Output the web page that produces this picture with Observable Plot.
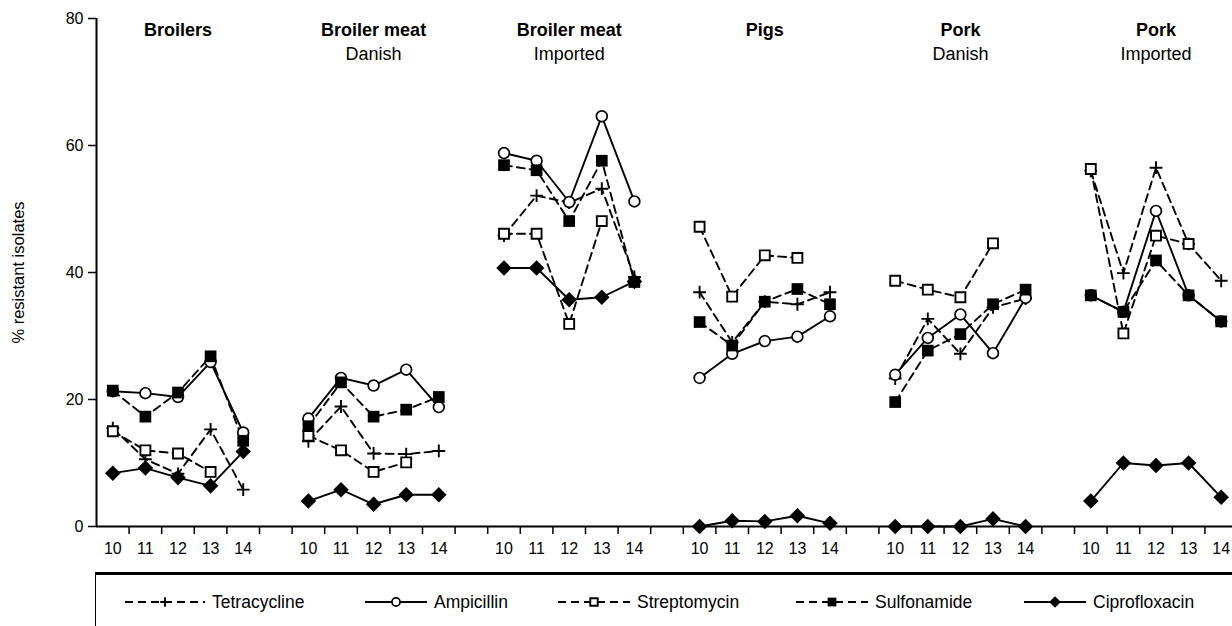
<!DOCTYPE html>
<html><head><meta charset="utf-8">
<script src="https://cdn.jsdelivr.net/npm/d3@7"></script>
<script src="https://cdn.jsdelivr.net/npm/@observablehq/plot@0.6"></script>
<style>
html,body{margin:0;padding:0;background:#fff;overflow:hidden;width:1232px;height:626px;}
body{font-family:"Liberation Sans",Arial,sans-serif;position:relative;color:#000;}
#chart{position:absolute;left:0;top:0;}
#legend{position:absolute;left:95px;top:572px;width:1200px;height:80px;border-left:1.5px solid #000;border-top:3px solid #000;box-sizing:border-box;}
.item{position:absolute;top:17px;height:20px;display:flex;align-items:center;font-size:17.5px;white-space:nowrap;}
.item svg{display:block;}
</style>
</head><body>
<div id="chart"></div>
<div id="legend"></div>
<script>
// ---- data ----
const panels = ["Broilers", "Broiler meat", "Broiler meat", "Pigs", "Pork", "Pork"];
const panelSub = ["", "Danish", "Imported", "", "Danish", "Imported"];
const years = ["10", "11", "12", "13", "14"];
const yTicks = [0, 20, 40, 60, 80];
const drugs = ["Tetracycline", "Ampicillin", "Streptomycin", "Sulfonamide", "Ciprofloxacin"];

// rows = panels, columns = years 10..14
const tetracycline = [
  [15.5, 10.6, 8.3, 15.3, 5.8],
  [13.4, 18.9, 11.5, 11.4, 11.9],
  [45.8, 52.1, 51.0, 53.2, 39.3],
  [36.9, 29.0, 35.4, 35.0, 36.9],
  [23.3, 32.7, 27.2, 34.5, 35.9],
  [56.0, 39.9, 56.5, 44.5, 38.7]
];
const ampicillin = [
  [21.3, 21.0, 20.4, 25.9, 14.8],
  [17.0, 23.4, 22.2, 24.7, 18.8],
  [58.8, 57.6, 51.1, 64.6, 51.2],
  [23.4, 27.2, 29.2, 29.9, 33.1],
  [23.9, 29.7, 33.4, 27.3, 36.0],
  [36.4, 33.8, 49.7, 36.4, 32.3]
];
const streptomycin = [
  [15.0, 12.0, 11.5, 8.6, null],
  [14.3, 12.0, 8.6, 10.1, null],
  [46.1, 46.1, 31.9, 48.1, null],
  [47.2, 36.2, 42.7, 42.3, null],
  [38.7, 37.3, 36.1, 44.6, null],
  [56.3, 30.4, 45.8, 44.5, null]
];
const sulfonamide = [
  [21.4, 17.3, 21.1, 26.8, 13.5],
  [15.8, 22.7, 17.3, 18.4, 20.4],
  [56.9, 56.1, 48.1, 57.6, 38.5],
  [32.2, 28.5, 35.4, 37.4, 35.0],
  [19.6, 27.7, 30.3, 35.0, 37.3],
  [36.4, 33.8, 41.9, 36.4, 32.3]
];
const ciprofloxacin = [
  [8.4, 9.2, 7.7, 6.4, 11.8],
  [4.0, 5.8, 3.5, 5.0, 5.0],
  [40.7, 40.7, 35.7, 36.1, 38.6],
  [0.0, 0.9, 0.8, 1.7, 0.5],
  [0.0, 0.0, 0.0, 1.2, 0.0],
  [4.0, 10.0, 9.6, 10.0, 4.6]
];
const seriesValues = [tetracycline, ampicillin, streptomycin, sulfonamide, ciprofloxacin];

// ---- styles ----
const dashed = {Tetracycline: true, Ampicillin: false, Streptomycin: true, Sulfonamide: true, Ciprofloxacin: false};
const markerStyle = {
  Tetracycline: {symbol: "plus", r: 4.2, fill: "none", stroke: "#000", strokeWidth: 1.9},
  Ampicillin: {symbol: "circle", r: 5.4, fill: "#fff", stroke: "#000", strokeWidth: 1.7},
  Streptomycin: {symbol: "square", r: 5.6, fill: "#fff", stroke: "#000", strokeWidth: 1.9},
  Sulfonamide: {symbol: "square", r: 6.6, fill: "#000", stroke: "none", strokeWidth: 0},
  Ciprofloxacin: {symbol: "diamond2", r: 7, fill: "#000", stroke: "none", strokeWidth: 0}
};

// ---- table built from arrays ----
const slot = 6; // 5 years + 1 gap per panel
const rows = [];
drugs.forEach((drug, k) => {
  seriesValues[k].forEach((arr, p) => {
    arr.forEach((v, j) => rows.push({drug, panel: p, pos: p * slot + j, v}));
  });
});
const nSlots = panels.length * slot;
const boundaries = d3.range(0, nSlots).map(i => i + 0.5);
const labelPos = [];
panels.forEach((_, p) => years.forEach((_, j) => labelPos.push(p * slot + j)));

const lineMarks = drugs.map(drug => Plot.line(rows.filter(d => d.drug === drug), {
  x: "pos", y: "v", z: "panel",
  stroke: "#000", strokeWidth: 1.9,
  strokeDasharray: dashed[drug] ? "8,5" : null,
  curve: "linear"
}));
const dotMarks = drugs.map(drug => {
  const s = markerStyle[drug];
  return Plot.dot(rows.filter(d => d.drug === drug && d.v != null), {
    x: "pos", y: "v", symbol: () => s.symbol, r: s.r,
    fill: s.fill, stroke: s.stroke, strokeWidth: s.strokeWidth
  });
});

const chart = Plot.plot({
  width: 1232,
  height: 570,
  marginLeft: 96,
  marginRight: 0,
  marginTop: 18,
  marginBottom: 44,
  style: {fontFamily: "'Liberation Sans', Arial, sans-serif", fontSize: "16px", color: "#000", background: "#fff"},
  x: {type: "linear", domain: [-0.5, nSlots - 0.5], range: [96, 96 + nSlots * 32.6]},
  y: {domain: [0, 80]},
  symbol: {type: "identity"},
  marks: [
    Plot.axisY({ticks: yTicks, tickSize: 8, tickPadding: 5, label: null, fontSize: 16, strokeWidth: 1.5}),
    Plot.axisX({ticks: boundaries, tickSize: 8, tickFormat: () => "", label: null, strokeWidth: 1.5}),
    Plot.axisX({ticks: labelPos, tickSize: 0, tickPadding: 16, tickFormat: i => years[i % slot], label: null, fontSize: 16}),
    Plot.ruleX([-0.5], {y1: 0, y2: 80, strokeWidth: 2}),
    Plot.ruleY([0], {strokeWidth: 2}),
    ...lineMarks,
    ...dotMarks,
    Plot.text(panels, {x: (d, i) => i * slot + 2, text: d => d, frameAnchor: "top", dy: 12, fontWeight: "bold", fontSize: 18, lineAnchor: "middle"}),
    Plot.text(panelSub, {x: (d, i) => i * slot + 2, text: d => d, frameAnchor: "top", dy: 36, fontSize: 18, lineAnchor: "middle"}),
    Plot.text(["% resistant isolates"], {frameAnchor: "left", dx: -78, rotate: -90, fontSize: 16.5, textAnchor: "middle", text: d => d})
  ]
});
document.getElementById("chart").appendChild(chart);

// ---- legend (HTML + small inline svg swatches) ----
const legendMarkerX = [164, 395, 593, 831, 1054];
const legendSampleW = [80, 62, 72, 72, 62];
const legend = d3.select("#legend");
drugs.forEach((drug, k) => {
  const w = legendSampleW[k];
  const left = legendMarkerX[k] - w / 2 - 95;
  const item = legend.append("div").attr("class", "item").style("left", left + "px");
  const svg = item.append("svg").attr("width", w).attr("height", 20);
  svg.append("line").attr("x1", 0).attr("x2", w).attr("y1", 10).attr("y2", 10)
    .attr("stroke", "#000").attr("stroke-width", 1.9)
    .attr("stroke-dasharray", dashed[drug] ? "8,5" : null);
  const s = markerStyle[drug];
  const sym = {plus: d3.symbolPlus, circle: d3.symbolCircle, square: d3.symbolSquare, diamond2: d3.symbolDiamond2}[s.symbol];
  const rr = s.r * 0.75;
  svg.append("path").attr("transform", `translate(${w / 2},10)`)
    .attr("d", d3.symbol(sym, rr * rr * Math.PI)())
    .attr("fill", s.fill).attr("stroke", s.stroke).attr("stroke-width", s.strokeWidth);
  item.append("span").style("margin-left", "7px").text(drug);
});
</script>
</body></html>
